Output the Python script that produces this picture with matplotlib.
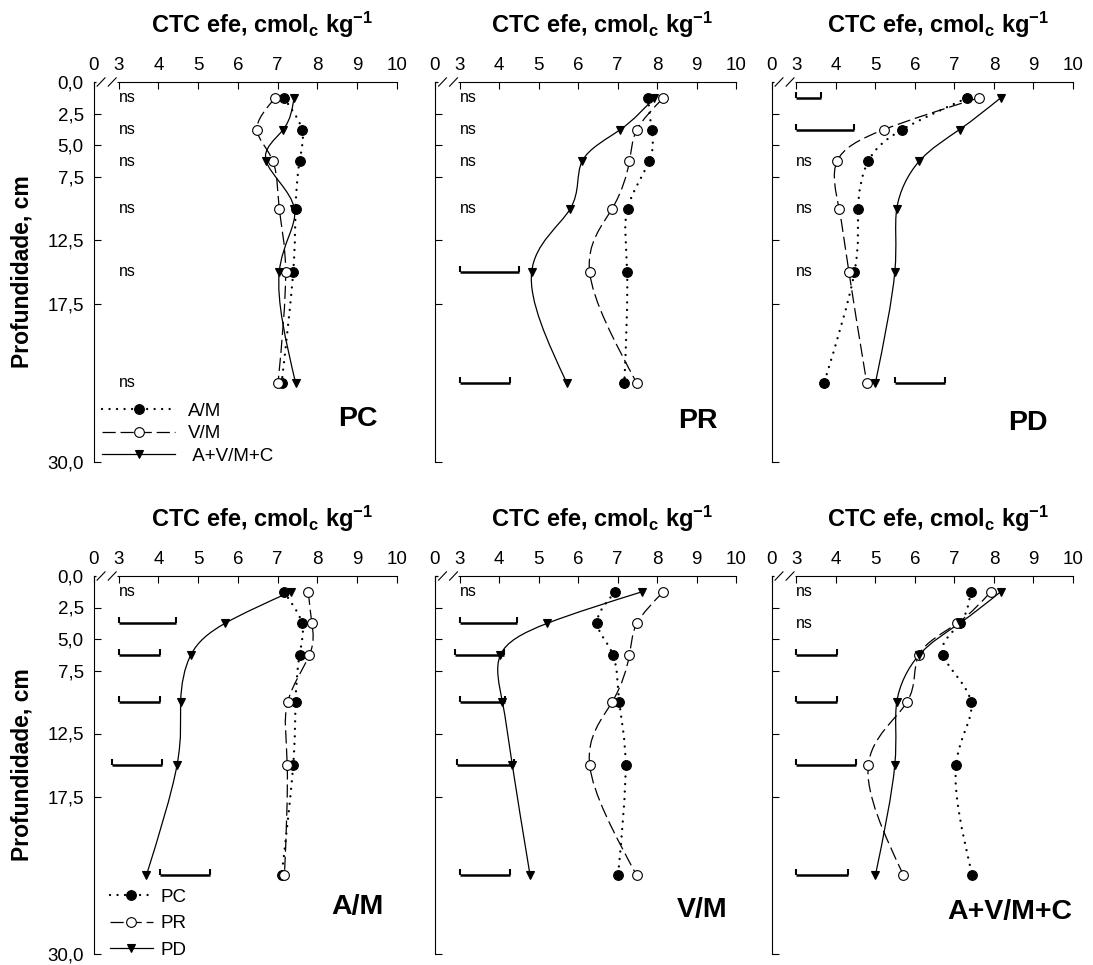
import numpy as np
import matplotlib
matplotlib.use("Agg")
import matplotlib.pyplot as plt
from matplotlib.path import Path
from matplotlib.patches import PathPatch
from matplotlib.lines import Line2D
import matplotlib.transforms as mtransforms

plt.rcParams['font.family'] = ['Liberation Sans', 'DejaVu Sans']
plt.rcParams['mathtext.fontset'] = 'custom'
plt.rcParams['mathtext.rm'] = 'Liberation Sans'
plt.rcParams['mathtext.bf'] = 'Liberation Sans:bold'
plt.rcParams['mathtext.it'] = 'Liberation Sans:italic'
plt.rcParams['lines.scale_dashes'] = False

# ---------------------------------------------------------------- data
depth = [1.25, 3.75, 6.25, 10.0, 15.0, 23.75]          # layer mid-points, cm
depth_ticks = [0, 2.5, 5, 7.5, 12.5, 17.5, 30]
depth_labels = ['0,0', '2,5', '5,0', '7,5', '12,5', '17,5', '30,0']
cec_ticks = [3, 4, 5, 6, 7, 8, 9, 10]
cec_labels = ['3', '4', '5', '6', '7', '8', '9', '10']

systems = ['PC', 'PR', 'PD']
treatments = ['A/M', 'V/M', 'A+V/M+C']

# effective CEC (cmolc kg-1), system x cover treatment, by depth
pc_am = [7.15, 7.61, 7.55, 7.45, 7.39, 7.10]
pc_vm = [6.94, 6.48, 6.88, 7.04, 7.20, 7.01]
pc_avmc = [7.41, 7.14, 6.71, 7.42, 7.04, 7.45]
pr_am = [7.77, 7.86, 7.80, 7.25, 7.24, 7.17]
pr_vm = [8.16, 7.49, 7.30, 6.86, 6.29, 7.48]
pr_avmc = [7.92, 7.07, 6.10, 5.80, 4.82, 5.71]
pd_am = [7.33, 5.68, 4.82, 4.56, 4.47, 3.70]
pd_vm = [7.62, 5.22, 4.03, 4.08, 4.33, 4.78]
pd_avmc = [8.17, 7.13, 6.11, 5.54, 5.49, 5.00]

nan = np.nan
# least significant difference bars (start, length); NaN -> "ns"
lsd_start_pc = [nan, nan, nan, nan, nan, nan]
lsd_len_pc = [nan, nan, nan, nan, nan, nan]
lsd_start_pr = [nan, nan, nan, nan, 3.0, 3.0]
lsd_len_pr = [nan, nan, nan, nan, 1.50, 1.27]
lsd_start_pd = [3.0, 3.0, nan, nan, nan, 5.50]
lsd_len_pd = [0.62, 1.45, nan, nan, nan, 1.27]
lsd_start_am = [nan, 3.0, 3.0, 3.0, 2.84, 4.03]
lsd_len_am = [nan, 1.44, 1.04, 1.04, 1.26, 1.26]
lsd_start_vm = [nan, 3.0, 2.87, 3.0, 2.93, 3.0]
lsd_len_vm = [nan, 1.44, 1.25, 1.14, 1.45, 1.27]
lsd_start_avmc = [nan, nan, 3.0, 3.0, 3.0, 3.0]
lsd_len_avmc = [nan, nan, 1.03, 1.03, 1.52, 1.30]

table = {
    ('PC', 'A/M'): pc_am, ('PC', 'V/M'): pc_vm, ('PC', 'A+V/M+C'): pc_avmc,
    ('PR', 'A/M'): pr_am, ('PR', 'V/M'): pr_vm, ('PR', 'A+V/M+C'): pr_avmc,
    ('PD', 'A/M'): pd_am, ('PD', 'V/M'): pd_vm, ('PD', 'A+V/M+C'): pd_avmc,
}

# ---------------------------------------------------------------- styles
XMIN = 2.37   # left edge of the broken CEC axis (labelled 0)
styles = [
    dict(marker='o', mfc='black', ls=(0, (0.01, 5.4)), lw=1.7, cap='round', ms=7),
    dict(marker='o', mfc='white', ls=(0, (9.5, 3.5)), lw=0.9, cap='butt', ms=7),
    dict(marker='v', mfc='black', ls='-', lw=0.9, cap='butt', ms=6),
]


def natural_derivs(v):
    """First derivatives of a natural cubic spline on a unit-spaced knot grid."""
    v = np.asarray(v, float)
    n = len(v)
    A = np.zeros((n, n))
    b = np.zeros(n)
    A[0, 0] = A[-1, -1] = 2.0
    A[0, 1] = A[-1, -2] = 1.0
    b[0] = 3 * (v[1] - v[0])
    b[-1] = 3 * (v[-1] - v[-2])
    for i in range(1, n - 1):
        A[i, i - 1] = 1.0
        A[i, i] = 4.0
        A[i, i + 1] = 1.0
        b[i] = 3 * (v[i + 1] - v[i - 1])
    return np.linalg.solve(A, b)


def spline_path(xv, yv):
    """Parametric natural cubic spline through the points, as Bezier segments."""
    x = np.asarray(xv, float)
    y = np.asarray(yv, float)
    dx = natural_derivs(x)
    dy = natural_derivs(y)
    verts = [(x[0], y[0])]
    codes = [Path.MOVETO]
    for i in range(len(x) - 1):
        verts += [(x[i] + dx[i] / 3, y[i] + dy[i] / 3),
                  (x[i + 1] - dx[i + 1] / 3, y[i + 1] - dy[i + 1] / 3),
                  (x[i + 1], y[i + 1])]
        codes += [Path.CURVE4] * 3
    return Path(verts, codes)


def draw_series(ax, values, st):
    patch = PathPatch(spline_path(values, depth), fill=False, color='black',
                      lw=st['lw'], linestyle=st['ls'], zorder=2)
    patch.set_capstyle(st['cap'])
    ax.add_patch(patch)
    ax.plot(values, depth, ls='none', marker=st['marker'], ms=st['ms'],
            mfc=st['mfc'], mec='black', mew=0.8, zorder=3)


def proxy(st):
    return Line2D([], [], color='black', lw=st['lw'], ls=st['ls'],
                  dash_capstyle=st['cap'], marker=st['marker'], ms=st['ms'],
                  mfc=st['mfc'], mec='black', mew=0.8)


def draw_lsd(ax, starts, lengths):
    for d, x0, w in zip(depth, starts, lengths):
        if np.isnan(x0):
            ax.text(3.0, d, 'ns', fontsize=11.5, ha='left', va='center')
        else:
            ax.plot([x0, x0 + w], [d, d], color='black', lw=1.8,
                    solid_capstyle='butt', zorder=2)
            ax.plot([x0, x0 + w], [d, d], ls='none', marker=2, ms=4,
                    mew=1.5, color='black', zorder=2)


def setup_axes(ax, show_ylabels):
    ax.set_xlim(XMIN, 10)
    ax.set_ylim(30, 0)
    ax.xaxis.tick_top()
    ax.set_xticks([XMIN] + cec_ticks)
    ax.set_xticklabels(['0'] + cec_labels)
    ax.set_yticks(depth_ticks)
    if show_ylabels:
        ax.set_yticklabels(depth_labels)
        ax.set_ylabel('Profundidade, cm', fontsize=16.5, fontweight='bold')
        ax.yaxis.set_label_coords(-0.198, 0.5)
    else:
        ax.set_yticklabels([])
    ax.tick_params(axis='x', direction='in', length=5, width=0.8, pad=6,
                   labelsize=13.5, top=True, bottom=False)
    ax.tick_params(axis='y', direction='in', length=5, width=0.8, pad=7,
                   labelsize=13.5, left=True, right=False)
    ax.spines['right'].set_visible(False)
    ax.spines['bottom'].set_visible(False)
    for sp in ('top', 'left'):
        ax.spines[sp].set_linewidth(0.8)
    # axis break marks between 0 and 3
    tr = mtransforms.blended_transform_factory(ax.transData, ax.transAxes)
    ax.plot([2.44, 2.96], [1, 1], transform=tr, color='white', lw=2.5,
            clip_on=False, zorder=5, solid_capstyle='butt')
    for xc in (2.56, 2.84):
        ax.plot([xc - 0.1, xc + 0.1], [0.989, 1.011], transform=tr,
                color='black', lw=0.8, clip_on=False, zorder=6)
    ax.annotate(r'CTC efe, cmol$_{\mathbf{c}}$ kg$^{\mathbf{-1}}$',
                xy=(0.554, 1), xycoords='axes fraction', xytext=(0, 35.5),
                textcoords='offset points', ha='center', va='baseline',
                fontsize=17, fontweight='bold')


fig = plt.figure(figsize=(10.93, 9.65), dpi=100)
W, H = 1093.0, 965.0
col_px = [(93.5, 397.0), (435.0, 736.0), (771.5, 1073.0)]
row_px = [(82.0, 462.0), (576.0, 954.0)]

axes = []
for r, (yt, yb) in enumerate(row_px):
    row = []
    for c, (xl, xr) in enumerate(col_px):
        ax = fig.add_axes([xl / W, 1 - yb / H, (xr - xl) / W, (yb - yt) / H])
        setup_axes(ax, c == 0)
        row.append(ax)
    axes.append(row)

# top row: one panel per system, series per treatment
top_lsd = {'PC': (lsd_start_pc, lsd_len_pc), 'PR': (lsd_start_pr, lsd_len_pr),
           'PD': (lsd_start_pd, lsd_len_pd)}
top_label_pos = {'PC': (9.51, 26.6), 'PR': (9.54, 26.8), 'PD': (9.37, 26.9)}
for c, s in enumerate(systems):
    ax = axes[0][c]
    draw_lsd(ax, *top_lsd[s])
    for t, st in zip(treatments, styles):
        draw_series(ax, table[(s, t)], st)
    ax.text(*top_label_pos[s], s, ha='right', va='center', fontsize=20.5,
            fontweight='bold')

# bottom row: one panel per treatment, series per system
bot_lsd = {'A/M': (lsd_start_am, lsd_len_am), 'V/M': (lsd_start_vm, lsd_len_vm),
           'A+V/M+C': (lsd_start_avmc, lsd_len_avmc)}
bot_label_pos = {'A/M': (9.66, 26.3), 'V/M': (9.77, 26.5), 'A+V/M+C': (9.97, 26.7)}
for c, t in enumerate(treatments):
    ax = axes[1][c]
    draw_lsd(ax, *bot_lsd[t])
    for s, st in zip(systems, styles):
        draw_series(ax, table[(s, t)], st)
    ax.text(*bot_label_pos[t], t, ha='right', va='center', fontsize=20.5,
            fontweight='bold')

axes[0][0].legend(handles=[proxy(st) for st in styles],
                  labels=['A/M', 'V/M', ' A+V/M+C'],
                  loc='lower left', bbox_to_anchor=(0.028, -0.008),
                  frameon=False, fontsize=13.5, handlelength=3.9,
                  handletextpad=0.7, labelspacing=0.3, borderpad=0,
                  borderaxespad=0, numpoints=1)
axes[1][0].legend(handles=[proxy(st) for st in styles],
                  labels=systems,
                  loc='lower left', bbox_to_anchor=(0.054, -0.013),
                  frameon=False, fontsize=13.5, handlelength=2.3,
                  handletextpad=0.38, labelspacing=0.5, borderpad=0,
                  borderaxespad=0, numpoints=1)

fig.savefig('out.png', dpi=100)
